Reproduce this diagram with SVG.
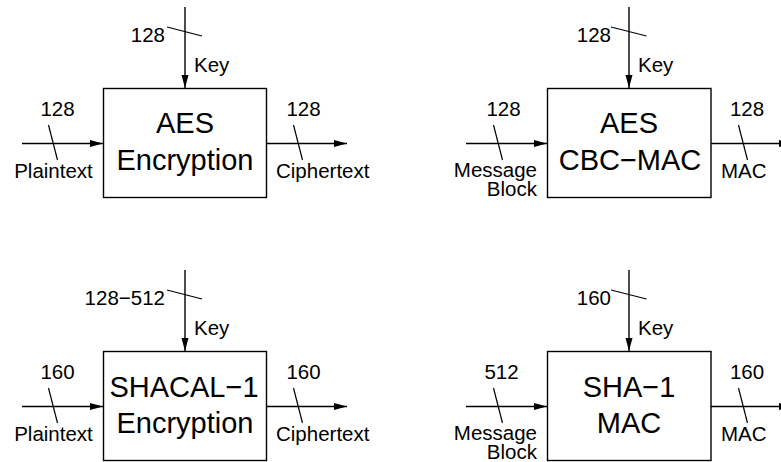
<svg xmlns="http://www.w3.org/2000/svg" width="781" height="462" viewBox="0 0 781 462">
<style>
  .box { fill: #ffffff; stroke: #000000; stroke-width: 1.4; }
  .ln { fill: none; stroke: #000000; stroke-width: 1.4; }
  .tk { fill: none; stroke: #000000; stroke-width: 1.2; }
  .big { font-family: "Liberation Sans", Arial, sans-serif; font-size: 29px; fill: #000; text-anchor: middle; }
  .sm { font-family: "Liberation Sans", Arial, sans-serif; font-size: 20.5px; fill: #000; }
  .e { text-anchor: end; }
  .m { text-anchor: middle; }
</style>
<defs>
  <marker id="ah" markerUnits="userSpaceOnUse" markerWidth="14" markerHeight="8" refX="13" refY="3.5" orient="auto">
    <path d="M0,0 L13,3.5 L0,7 Z" fill="#000"/>
  </marker>
</defs>
<rect width="781" height="462" fill="#ffffff"/>

<g id="connectors">
  <!-- AES Encryption -->
  <line class="ln" x1="185" y1="7" x2="185" y2="88" marker-end="url(#ah)"/>
  <line class="tk" x1="167" y1="27" x2="202" y2="36"/>
  <line class="ln" x1="22" y1="143.5" x2="103" y2="143.5" marker-end="url(#ah)"/>
  <line class="tk" x1="48.5" y1="125" x2="57.5" y2="160"/>
  <line class="ln" x1="267" y1="143.5" x2="347" y2="143.5" marker-end="url(#ah)"/>
  <line class="tk" x1="293.5" y1="125" x2="302.5" y2="160"/>
  <!-- AES CBC-MAC -->
  <line class="ln" x1="629" y1="7" x2="629" y2="88" marker-end="url(#ah)"/>
  <line class="tk" x1="611" y1="27" x2="646.5" y2="36"/>
  <line class="ln" x1="466" y1="143.5" x2="547" y2="143.5" marker-end="url(#ah)"/>
  <line class="tk" x1="493.5" y1="125" x2="502.5" y2="160"/>
  <line class="ln" x1="711" y1="143.5" x2="792" y2="143.5" marker-end="url(#ah)"/>
  <line class="tk" x1="738.5" y1="125" x2="747.5" y2="160"/>
  <!-- SHACAL-1 Encryption -->
  <line class="ln" x1="185" y1="270" x2="185" y2="351" marker-end="url(#ah)"/>
  <line class="tk" x1="167" y1="290" x2="202" y2="299"/>
  <line class="ln" x1="22" y1="406.5" x2="103" y2="406.5" marker-end="url(#ah)"/>
  <line class="tk" x1="48.5" y1="388" x2="57.5" y2="423"/>
  <line class="ln" x1="267" y1="406.5" x2="347" y2="406.5" marker-end="url(#ah)"/>
  <line class="tk" x1="293.5" y1="388" x2="302.5" y2="423"/>
  <!-- SHA-1 MAC -->
  <line class="ln" x1="629" y1="270" x2="629" y2="351" marker-end="url(#ah)"/>
  <line class="tk" x1="611" y1="290" x2="646.5" y2="299"/>
  <line class="ln" x1="466" y1="406.5" x2="547" y2="406.5" marker-end="url(#ah)"/>
  <line class="tk" x1="493.5" y1="388" x2="502.5" y2="423"/>
  <line class="ln" x1="711" y1="406.5" x2="792" y2="406.5" marker-end="url(#ah)"/>
  <line class="tk" x1="738.5" y1="388" x2="747.5" y2="423"/>
</g>

<g id="labels">
  <text class="sm e" x="165" y="42">128</text>
  <text class="sm" x="194" y="72">Key</text>
  <text class="sm m" x="57.5" y="116">128</text>
  <text class="sm m" x="53.5" y="178">Plaintext</text>
  <text class="sm m" x="303.5" y="116">128</text>
  <text class="sm" x="276" y="178">Ciphertext</text>

  <text class="sm e" x="611" y="42">128</text>
  <text class="sm" x="638" y="72">Key</text>
  <text class="sm m" x="503.5" y="116">128</text>
  <text class="sm e" x="537" y="177">Message</text>
  <text class="sm e" x="537" y="196">Block</text>
  <text class="sm m" x="747" y="116">128</text>
  <text class="sm" x="721" y="178">MAC</text>

  <text class="sm e" x="165" y="305">128−512</text>
  <text class="sm" x="194" y="335">Key</text>
  <text class="sm m" x="57.5" y="379">160</text>
  <text class="sm m" x="53.5" y="441">Plaintext</text>
  <text class="sm m" x="303.5" y="379">160</text>
  <text class="sm" x="276" y="441">Ciphertext</text>

  <text class="sm e" x="611" y="305">160</text>
  <text class="sm" x="638" y="335">Key</text>
  <text class="sm m" x="501.5" y="379">512</text>
  <text class="sm e" x="537" y="440">Message</text>
  <text class="sm e" x="537" y="459">Block</text>
  <text class="sm m" x="747" y="379">160</text>
  <text class="sm" x="721" y="441">MAC</text>
</g>

<g id="aes-encryption">
  <rect class="box" x="103.5" y="88.5" width="163" height="109"/>
  <text class="big" x="185" y="133">AES</text>
  <text class="big" x="185" y="170">Encryption</text>
</g>
<g id="aes-cbc-mac">
  <rect class="box" x="547.5" y="88.5" width="163.5" height="109"/>
  <text class="big" x="629" y="133">AES</text>
  <text class="big" x="630" y="170">CBC−MAC</text>
</g>
<g id="shacal1-encryption">
  <rect class="box" x="103.5" y="351.5" width="163" height="109"/>
  <text class="big" x="184" y="397">SHACAL−1</text>
  <text class="big" x="185" y="433">Encryption</text>
</g>
<g id="sha1-mac">
  <rect class="box" x="547.5" y="351.5" width="163.5" height="109"/>
  <text class="big" x="629" y="397">SHA−1</text>
  <text class="big" x="629" y="433">MAC</text>
</g>
</svg>
